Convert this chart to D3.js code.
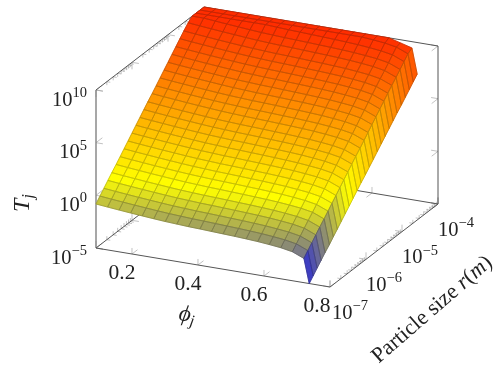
<!DOCTYPE html>
<html>
<head>
<meta charset="utf-8">
<script src="https://cdn.jsdelivr.net/npm/d3@7"></script>
<style>
    html, body { margin: 0; padding: 0; background: #fff; }
    svg { display: block; filter: blur(0.3px); }
    text { font-family: "Liberation Serif", serif; fill: #222; }
</style>
</head>
<body>
<svg id="chart" width="496" height="369"></svg>
<script>
// phi_j samples (columns of the surface)
const phiValues = [0.091, 0.126, 0.161, 0.196, 0.231, 0.266, 0.301, 0.336, 0.371, 0.406,
    0.441, 0.476, 0.511, 0.546, 0.581, 0.616, 0.651, 0.686, 0.721, 0.737];

// particle size samples as powers of ten (rows of the surface)
const radiusExponents = [-7.00, -6.89, -6.78, -6.67, -6.56, -6.44, -6.33, -6.22, -6.11, -6.00,
    -5.89, -5.78, -5.67, -5.56, -5.44, -5.33, -5.22, -5.11, -5.00,
    -4.89, -4.78, -4.67, -4.56, -4.44, -4.33, -4.22, -4.11, -4.00];

// log10(T_j), one row per radius, one column per phi
const logT = [
    [-0.82,-0.93,-1.03,-1.13,-1.22,-1.31,-1.39,-1.45,-1.51,-1.55,-1.60,-1.65,-1.70,-1.76,-1.83,-1.93,-2.05,-2.25,-2.70,-5.00],
    [-0.36,-0.47,-0.57,-0.67,-0.76,-0.85,-0.93,-0.99,-1.05,-1.09,-1.14,-1.19,-1.24,-1.30,-1.37,-1.47,-1.59,-1.79,-2.24,-4.56],
    [0.09,-0.02,-0.12,-0.22,-0.31,-0.40,-0.48,-0.54,-0.60,-0.64,-0.69,-0.74,-0.79,-0.85,-0.92,-1.02,-1.14,-1.34,-1.79,-4.11],
    [0.55,0.44,0.34,0.24,0.15,0.06,-0.02,-0.08,-0.14,-0.18,-0.23,-0.28,-0.33,-0.39,-0.46,-0.56,-0.68,-0.88,-1.33,-3.67],
    [1.00,0.89,0.79,0.69,0.60,0.51,0.43,0.37,0.31,0.27,0.22,0.17,0.12,0.06,-0.01,-0.11,-0.23,-0.43,-0.88,-3.22],
    [1.46,1.35,1.25,1.15,1.06,0.97,0.89,0.83,0.77,0.73,0.68,0.63,0.58,0.52,0.45,0.35,0.23,0.03,-0.42,-2.78],
    [1.91,1.80,1.70,1.60,1.51,1.42,1.34,1.28,1.22,1.18,1.13,1.08,1.03,0.97,0.90,0.80,0.68,0.48,0.03,-2.33],
    [2.37,2.26,2.16,2.06,1.97,1.88,1.80,1.74,1.68,1.64,1.59,1.54,1.49,1.43,1.36,1.26,1.14,0.94,0.49,-1.89],
    [2.82,2.71,2.61,2.51,2.42,2.33,2.25,2.19,2.13,2.09,2.04,1.99,1.94,1.88,1.81,1.71,1.59,1.39,0.94,-1.44],
    [3.28,3.17,3.07,2.97,2.88,2.79,2.71,2.65,2.59,2.55,2.50,2.45,2.40,2.34,2.27,2.17,2.05,1.85,1.40,-1.00],
    [3.74,3.63,3.53,3.43,3.34,3.25,3.17,3.11,3.05,3.01,2.96,2.91,2.86,2.80,2.73,2.63,2.51,2.31,1.86,-0.56],
    [4.19,4.08,3.98,3.88,3.79,3.70,3.62,3.56,3.50,3.46,3.41,3.36,3.31,3.25,3.18,3.08,2.96,2.76,2.31,-0.11],
    [4.65,4.54,4.44,4.34,4.25,4.16,4.08,4.02,3.96,3.92,3.87,3.82,3.77,3.71,3.64,3.54,3.42,3.22,2.77,0.33],
    [5.10,4.99,4.89,4.79,4.70,4.61,4.53,4.47,4.41,4.37,4.32,4.27,4.22,4.16,4.09,3.99,3.87,3.67,3.22,0.78],
    [5.56,5.45,5.35,5.25,5.16,5.07,4.99,4.93,4.87,4.83,4.78,4.73,4.68,4.62,4.55,4.45,4.33,4.13,3.68,1.22],
    [6.01,5.90,5.80,5.70,5.61,5.52,5.44,5.38,5.32,5.28,5.23,5.18,5.13,5.07,5.00,4.90,4.78,4.58,4.13,1.67],
    [6.47,6.36,6.26,6.16,6.07,5.98,5.90,5.84,5.78,5.74,5.69,5.64,5.59,5.53,5.46,5.36,5.24,5.04,4.59,2.11],
    [6.93,6.82,6.72,6.62,6.53,6.44,6.36,6.30,6.24,6.20,6.15,6.10,6.05,5.99,5.92,5.82,5.70,5.50,5.05,2.56],
    [7.38,7.27,7.17,7.07,6.98,6.89,6.81,6.75,6.69,6.65,6.60,6.55,6.50,6.44,6.37,6.27,6.15,5.95,5.50,3.00],
    [7.84,7.73,7.63,7.53,7.44,7.35,7.27,7.21,7.15,7.11,7.06,7.01,6.96,6.90,6.83,6.73,6.61,6.41,5.96,3.44],
    [8.29,8.18,8.08,7.98,7.89,7.80,7.72,7.66,7.60,7.56,7.51,7.46,7.41,7.35,7.28,7.18,7.06,6.86,6.41,3.89],
    [8.75,8.64,8.54,8.44,8.35,8.26,8.18,8.12,8.06,8.02,7.97,7.92,7.87,7.81,7.74,7.64,7.52,7.32,6.87,4.33],
    [9.20,9.09,8.99,8.89,8.80,8.71,8.63,8.57,8.51,8.47,8.42,8.37,8.32,8.26,8.19,8.09,7.97,7.77,7.32,4.78],
    [9.66,9.55,9.45,9.35,9.26,9.17,9.09,9.03,8.97,8.93,8.88,8.83,8.78,8.72,8.65,8.55,8.43,8.23,7.78,5.22],
    [10.00,10.00,9.90,9.80,9.71,9.62,9.54,9.48,9.42,9.38,9.33,9.28,9.23,9.17,9.10,9.00,8.88,8.68,8.23,5.67],
    [10.00,10.00,10.00,10.00,10.00,10.00,10.00,9.94,9.88,9.84,9.79,9.74,9.69,9.63,9.56,9.46,9.34,9.14,8.69,6.11],
    [10.00,10.00,10.00,10.00,10.00,10.00,10.00,10.00,10.00,10.00,10.00,10.00,10.00,10.00,10.00,9.91,9.79,9.59,9.14,6.56],
    [10.00,10.00,10.00,10.00,10.00,10.00,10.00,10.00,10.00,10.00,10.00,10.00,10.00,10.00,10.00,10.00,10.00,9.70,9.40,7.00]
];

const phiTicks = [0.2, 0.4, 0.6, 0.8];
const radiusTickExponents = [-7, -6, -5, -4];
const tempTickExponents = [-5, 0, 5, 10];

const svg = d3.select("#chart");

const origin = { x: 96, y: 248 };
const xVec = { x: 234, y: 39 };
const yVec = { x: 108, y: -83 };

const xScale = d3.scaleLinear().domain([0.091, 0.8]).range([0, 1]);
const yScale = d3.scaleLog().domain([1e-7, 1e-4]).range([0, 1]);
const zScale = d3.scaleLog().domain([1e-5, 1e10]).range([0, 158]);

// colormap/hot from pgfplots, the meta range goes past the clipped top of the plot
const colorScale = d3.scaleLinear()
    .domain([-5, 0.67, 6.33, 12])
    .range(["rgb(0,0,255)", "rgb(255,255,0)", "rgb(255,128,0)", "rgb(255,0,0)"])
    .clamp(true);

function project(phi, radius, temp) {
    const u = xScale(phi);
    const t = yScale(radius);
    return [
        origin.x + u * xVec.x + t * yVec.x,
        origin.y + u * xVec.y + t * yVec.y - zScale(temp)
    ];
}

const phiMin = xScale.domain()[0];
const phiMax = xScale.domain()[1];
const rMin = yScale.domain()[0];
const rMax = yScale.domain()[1];
const zMin = zScale.domain()[0];
const zMax = zScale.domain()[1];

const lineGen = d3.line();

const ticks = svg.append("g");
const box = svg.append("g");

function edge(a, b, color, width) {
    box.append("path")
        .attr("d", lineGen([a, b]))
        .attr("fill", "none")
        .attr("stroke", color)
        .attr("stroke-width", width);
}

const tickColor = "#a8a8a8";

function unit(v) {
    const l = Math.hypot(v.x, v.y);
    return { x: v.x / l, y: v.y / l };
}

function tick(p, dir, len) {
    ticks.append("path")
        .attr("d", lineGen([p, [p[0] + dir.x * len, p[1] + dir.y * len]]))
        .attr("fill", "none")
        .attr("stroke", tickColor)
        .attr("stroke-width", 0.7);
}

const xDir = unit(xVec);
const yDir = unit(yVec);
const up = { x: 0, y: -1 };
const neg = d => ({ x: -d.x, y: -d.y });

// z ticks on the two visible vertical edges
tempTickExponents.forEach(e => {
    const v = Math.pow(10, e);
    const left = project(phiMin, rMin, v);
    tick(left, xDir, 7);
    tick(left, yDir, 8);
    const right = project(phiMax, rMax, v);
    tick(right, neg(xDir), 7);
    tick(right, neg(yDir), 8);
});

// phi ticks on front and back floor edges
phiTicks.forEach(p => {
    const front = project(p, rMin, zMin);
    tick(front, up, 6);
    tick(front, yDir, 7);
    const back = project(p, rMax, zMin);
    tick(back, up, 6);
    tick(back, neg(yDir), 7);
});

// radius ticks, log minor ones included
yScale.ticks().forEach(r => {
    const isMajor = Math.abs(Math.log10(r) - Math.round(Math.log10(r))) < 1e-6;
    const len = isMajor ? 7 : 3.5;
    const front = project(phiMax, r, zMin);
    tick(front, up, len);
    tick(front, neg(xDir), len);
    const floorLeft = project(phiMin, r, zMin);
    tick(floorLeft, up, len);
    tick(floorLeft, xDir, len);
    const topLeft = project(phiMin, r, zMax);
    tick(topLeft, neg(up), len);
    tick(topLeft, xDir, len);
});

const boxDark = "#555";
edge(project(phiMin, rMin, zMin), project(phiMax, rMin, zMin), boxDark, 1);
edge(project(phiMax, rMin, zMin), project(phiMax, rMax, zMin), boxDark, 1);
edge(project(phiMin, rMin, zMin), project(phiMin, rMin, zMax), "#8a8a8a", 1.5);
edge(project(phiMin, rMin, zMax), project(phiMin, rMax, zMax), boxDark, 1);
edge(project(phiMin, rMax, zMax), project(phiMax, rMax, zMax), boxDark, 1);
edge(project(phiMax, rMax, zMax), project(phiMax, rMax, zMin), boxDark, 1);
edge(project(phiMin, rMin, zMin), project(phiMin, rMax, zMin), boxDark, 1);
edge(project(phiMin, rMax, zMin), project(phiMax, rMax, zMin), boxDark, 1);

// surface cells, far ones first
const cells = [];
for (let i = radiusExponents.length - 2; i >= 0; i--) {
    for (let j = 0; j < phiValues.length - 1; j++) {
        cells.push({ i, j });
    }
}

function surfacePoint(i, j) {
    return project(phiValues[j], Math.pow(10, radiusExponents[i]), Math.pow(10, logT[i][j]));
}

function cellPath(d) {
    return lineGen([
        surfacePoint(d.i, d.j),
        surfacePoint(d.i, d.j + 1),
        surfacePoint(d.i + 1, d.j + 1),
        surfacePoint(d.i + 1, d.j)
    ]) + "Z";
}

function cellColor(d) {
    return colorScale(d3.mean([
        logT[d.i][d.j], logT[d.i][d.j + 1], logT[d.i + 1][d.j + 1], logT[d.i + 1][d.j]
    ]));
}

svg.append("g")
    .selectAll("path")
    .data(cells)
    .enter()
    .append("path")
    .attr("d", cellPath)
    .attr("fill", cellColor)
    .attr("stroke", cellColor)
    .attr("stroke-width", 0.4);

// mesh goes in a second pass so neighbouring cells don't cover half of each line
svg.append("g")
    .selectAll("path")
    .data(cells)
    .enter()
    .append("path")
    .attr("d", cellPath)
    .attr("fill", "none")
    .attr("stroke", d => {
        const c = d3.rgb(cellColor(d));
        return d3.rgb(c.r * 0.78, c.g * 0.78, c.b * 0.78).formatRgb();
    })
    .attr("stroke-width", 0.8)
    .attr("stroke-linejoin", "round");

// tick labels
const labels = svg.append("g");

function powerLabel(x, y, exponent, anchor) {
    const text = labels.append("text")
        .attr("x", x)
        .attr("y", y)
        .attr("text-anchor", anchor)
        .style("font-size", "20.5px");
    text.append("tspan").text("10");
    text.append("tspan")
        .attr("dy", -8.5)
        .style("font-size", "14.5px")
        .text(String(exponent).replace("-", "\u2212"));
}

tempTickExponents.forEach(e => {
    const p = project(phiMin, rMin, Math.pow(10, e));
    powerLabel(p[0] - 9, p[1] + 15.5, e, "end");
});

radiusTickExponents.forEach(e => {
    const p = project(phiMax, Math.pow(10, e), zMin);
    // the first label sits right next to the 0.8 of the phi axis
    powerLabel(p[0] + (e === -7 ? 2 : 0), p[1] + 31.5, e, "start");
});

phiTicks.forEach(v => {
    const p = project(v, rMin, zMin);
    labels.append("text")
        .attr("x", p[0] - (v === 0.8 ? 13 : 10))
        .attr("y", p[1] + 25)
        .attr("text-anchor", "middle")
        .style("font-size", "21.5px")
        .text(v.toFixed(1));
});

// axis titles
const phiLabel = labels.append("text")
    .attr("transform", "translate(186,321) rotate(9.5)")
    .attr("text-anchor", "middle")
    .style("font-size", "23px")
    .style("font-style", "italic");
phiLabel.append("tspan").text("\u03d5");
phiLabel.append("tspan").attr("dy", 4).style("font-size", "16px").text("j");

const tLabel = labels.append("text")
    .attr("transform", "translate(29,203) rotate(-90)")
    .attr("text-anchor", "middle")
    .style("font-size", "24px")
    .style("font-style", "italic");
tLabel.append("tspan").text("T");
tLabel.append("tspan").attr("dy", 4).style("font-size", "16px").text("j");

const rLabel = labels.append("text")
    .attr("transform", "translate(436,314) rotate(-41)")
    .attr("text-anchor", "middle")
    .style("font-size", "22px");
rLabel.append("tspan").text("Particle size ");
rLabel.append("tspan").style("font-style", "italic").text("r");
rLabel.append("tspan").text("(");
rLabel.append("tspan").style("font-style", "italic").text("m");
rLabel.append("tspan").text(")");
</script>
</body>
</html>
